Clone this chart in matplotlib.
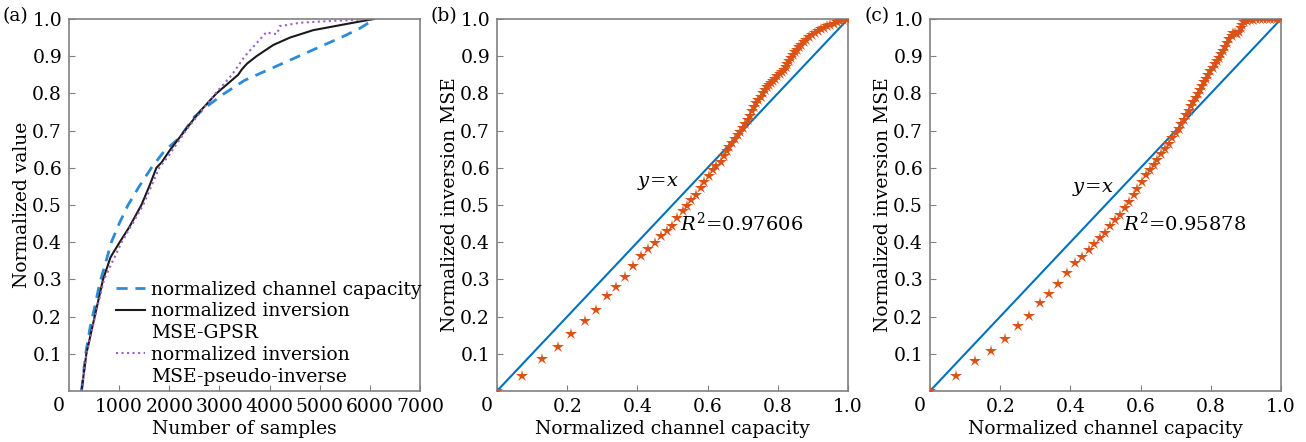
import matplotlib
matplotlib.use('Agg')
import matplotlib.pyplot as plt
from matplotlib.lines import Line2D

plt.rcParams['font.family'] = ['DejaVu Serif']
plt.rcParams['mathtext.fontset'] = 'dejavuserif'
plt.rcParams['font.size'] = 13.5

# (a) normalized curves vs number of samples
cap_samples = [250, 333, 420, 520, 612, 720, 845, 1000, 1178, 1400, 1644, 1900, 2200, 2500, 2800,
               3100, 3500, 4000, 4500, 5000, 5500, 5800, 6100]
cap_values = [0.0, 0.10, 0.17, 0.23, 0.29, 0.34, 0.40, 0.45, 0.50, 0.55, 0.60, 0.645, 0.68, 0.737,
              0.77, 0.80, 0.835, 0.865, 0.895, 0.925, 0.955, 0.975, 1.0]

gpsr_samples = [250, 346, 512, 679, 830, 920, 1011, 1200, 1444, 1600, 1743, 1850, 2000, 2309, 2600,
                2941, 3200, 3373, 3450, 3550, 3739, 4072, 4405, 4871, 5270, 5669, 6082]
gpsr_values = [0.0, 0.10, 0.20, 0.30, 0.36, 0.38, 0.40, 0.44, 0.50, 0.55, 0.60, 0.615, 0.645, 0.70,
               0.75, 0.80, 0.83, 0.85, 0.865, 0.88, 0.90, 0.93, 0.95, 0.97, 0.98, 0.99, 1.0]

pinv_samples = [250, 350, 520, 700, 1050, 1480, 1800, 2000, 2330, 2920, 3250, 3507, 3840, 3940,
                4050, 4150, 4205, 4400, 4605, 5270, 6082]
pinv_values = [0.0, 0.10, 0.20, 0.30, 0.40, 0.50, 0.60, 0.635, 0.70, 0.80, 0.85, 0.90, 0.95, 0.965,
               0.96, 0.96, 0.981, 0.985, 0.99, 0.995, 1.0]

# (b) GPSR: normalized channel capacity vs normalized inversion MSE
b_cap = [0.0, 0.071, 0.128, 0.173, 0.212, 0.250, 0.281, 0.312, 0.339, 0.364, 0.388, 0.411, 0.431,
         0.449, 0.466, 0.483, 0.498, 0.513, 0.529, 0.542, 0.554, 0.567, 0.580, 0.591, 0.603, 0.614,
         0.625, 0.637, 0.646, 0.655, 0.662, 0.670, 0.678, 0.686, 0.693, 0.700, 0.707, 0.714, 0.720,
         0.727, 0.733, 0.739, 0.745, 0.751, 0.757, 0.763, 0.769, 0.775, 0.781, 0.787, 0.793, 0.799,
         0.805, 0.811, 0.817, 0.822, 0.827, 0.832, 0.837, 0.842, 0.848, 0.854, 0.860, 0.867, 0.874,
         0.881, 0.889, 0.897, 0.905, 0.914, 0.923, 0.932, 0.941, 0.950, 0.959, 0.968, 0.977, 0.986,
         0.993, 1.0]
b_mse = [0.0, 0.040, 0.085, 0.117, 0.154, 0.188, 0.217, 0.255, 0.280, 0.307, 0.336, 0.362, 0.381,
         0.399, 0.418, 0.430, 0.444, 0.464, 0.483, 0.497, 0.513, 0.527, 0.546, 0.562, 0.578, 0.594,
         0.605, 0.616, 0.632, 0.645, 0.657, 0.668, 0.678, 0.688, 0.697, 0.707, 0.717, 0.729, 0.740,
         0.752, 0.763, 0.773, 0.782, 0.791, 0.800, 0.808, 0.816, 0.823, 0.829, 0.834, 0.840, 0.846,
         0.852, 0.858, 0.864, 0.872, 0.880, 0.888, 0.896, 0.903, 0.911, 0.918, 0.924, 0.931, 0.938,
         0.944, 0.951, 0.957, 0.962, 0.967, 0.972, 0.976, 0.980, 0.984, 0.987, 0.991, 0.994, 0.997,
         0.999, 1.0]

# (c) pseudo-inverse
c_cap = [0.0, 0.073, 0.128, 0.175, 0.213, 0.251, 0.283, 0.314, 0.340, 0.366, 0.390, 0.413, 0.433,
         0.452, 0.468, 0.483, 0.498, 0.513, 0.528, 0.542, 0.556, 0.568, 0.580, 0.591, 0.604, 0.616,
         0.627, 0.637, 0.648, 0.659, 0.669, 0.680, 0.690, 0.700, 0.708, 0.716, 0.723, 0.730, 0.737,
         0.744, 0.750, 0.757, 0.763, 0.769, 0.775, 0.781, 0.787, 0.793, 0.799, 0.805, 0.811, 0.817,
         0.823, 0.829, 0.835, 0.841, 0.847, 0.853, 0.859, 0.864, 0.870, 0.876, 0.880, 0.885, 0.890,
         0.896, 0.903, 0.912, 0.921, 0.930, 0.940, 0.950, 0.960, 0.970, 0.980, 0.990, 1.0]
c_mse = [0.0, 0.039, 0.080, 0.107, 0.141, 0.174, 0.201, 0.237, 0.260, 0.287, 0.317, 0.343, 0.361,
         0.380, 0.396, 0.410, 0.426, 0.444, 0.459, 0.473, 0.491, 0.509, 0.526, 0.543, 0.562, 0.580,
         0.594, 0.607, 0.621, 0.637, 0.651, 0.665, 0.680, 0.694, 0.705, 0.717, 0.729, 0.741, 0.753,
         0.765, 0.776, 0.788, 0.799, 0.810, 0.820, 0.830, 0.840, 0.850, 0.860, 0.869, 0.878, 0.887,
         0.896, 0.905, 0.915, 0.925, 0.935, 0.945, 0.955, 0.962, 0.963, 0.961, 0.966, 0.976, 0.985,
         0.991, 0.995, 0.997, 0.998, 0.999, 0.999, 0.999, 1.0, 1.0, 1.0, 1.0, 1.0]

yticks = [0.1, 0.2, 0.3, 0.4, 0.5, 0.6, 0.7, 0.8, 0.9, 1.0]
ytick_labels = ['0.1', '0.2', '0.3', '0.4', '0.5', '0.6', '0.7', '0.8', '0.9', '1.0']

W, H = 1306, 442
FS = 13.5
fig = plt.figure(figsize=(W / 100, H / 100), dpi=100)

def style_axes(ax):
    for s in ax.spines.values():
        s.set_color('#808080')
        s.set_linewidth(1.2)
    ax.tick_params(direction='in', length=4, color='#808080', pad=5, labelsize=FS,
                   top=False, right=False)
    ax.set_yticks(yticks)
    ax.set_yticklabels(ytick_labels)
    ax.set_ylim(0, 1)
    ax.annotate('0', xy=(0, 0), xycoords='axes fraction', xytext=(-10, -6),
                textcoords='offset pixels', ha='center', va='top', fontsize=FS)

ax1 = fig.add_axes([69 / W, 51 / H, 351 / W, 372 / H])
ax2 = fig.add_axes([497 / W, 51 / H, 351 / W, 372 / H])
ax3 = fig.add_axes([930 / W, 51 / H, 351 / W, 372 / H])

ax1.plot(cap_samples, cap_values, '--', color='#2d8bd6', lw=2, dashes=(4, 2.8))
ax1.plot(gpsr_samples, gpsr_values, '-', color='#1a1a1a', lw=1.5)
ax1.plot(pinv_samples, pinv_values, ':', color='#9a5fc8', lw=1.5)
ax1.set_xlim(0, 7000)
ax1.set_xticks([1000, 2000, 3000, 4000, 5000, 6000, 7000])
style_axes(ax1)
ax1.set_xlabel('Number of samples', fontsize=FS, labelpad=3)
ax1.set_ylabel('Normalized value', fontsize=FS, labelpad=1)

handles = [Line2D([], [], ls='--', color='#2d8bd6', lw=2, dashes=(4, 2.8)),
           Line2D([], [], color='#1a1a1a', lw=1.5),
           Line2D([], [], color='none'),
           Line2D([], [], ls=':', color='#9a5fc8', lw=1.5),
           Line2D([], [], color='none')]
labels = ['normalized channel capacity', 'normalized inversion', 'MSE-GPSR',
          'normalized inversion', 'MSE-pseudo-inverse']
ax1.legend(handles, labels, loc='upper left', bbox_to_anchor=(0.135, 0.297), frameon=False,
           fontsize=FS, handlelength=1.5, handletextpad=0.35, labelspacing=0.2,
           borderaxespad=0, borderpad=0)

for ax, xs, ys in [(ax2, b_cap, b_mse), (ax3, c_cap, c_mse)]:
    ax.plot([0, 1], [0, 1], color='#0072BD', lw=1.5, zorder=2)
    ax.plot(xs, ys, '*', color='#D95319', ms=9, mew=0, zorder=3)
    ax.set_xlim(0, 1)
    ax.set_xticks([0.2, 0.4, 0.6, 0.8, 1.0])
    ax.set_xticklabels(['0.2', '0.4', '0.6', '0.8', '1.0'])
    style_axes(ax)
    ax.set_xlabel('Normalized channel capacity', fontsize=FS, labelpad=3)
    ax.set_ylabel('Normalized inversion MSE', fontsize=FS, labelpad=1)

ax2.text(0.40, 0.55, r'$y\!=\!x$', fontsize=14)
ax2.text(0.52, 0.43, r'$R^2$=0.97606', fontsize=14)
ax3.text(0.405, 0.535, r'$y\!=\!x$', fontsize=14)
ax3.text(0.55, 0.43, r'$R^2$=0.95878', fontsize=14)

for x, lab in [(3, '(a)'), (430, '(b)'), (864, '(c)')]:
    fig.text(x / W, 1 - 16 / H, lab, ha='left', va='center', fontsize=FS)

fig.savefig('out.png', dpi=100)
